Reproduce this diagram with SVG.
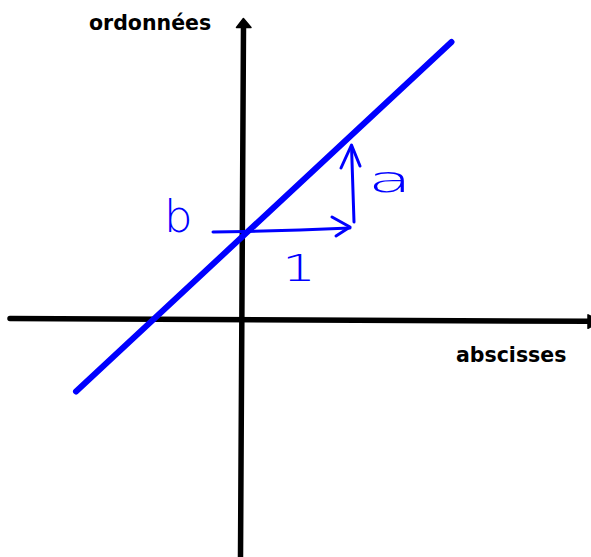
<svg xmlns="http://www.w3.org/2000/svg" width="591" height="557" viewBox="0 0 591 557">
  <style>
    .axis { stroke: #000; stroke-width: 5.5; stroke-linecap: round; fill: none; }
    .head { fill: #000; stroke: #000; stroke-width: 1.5; stroke-linejoin: round; }
    .label { font-family: "DejaVu Sans", "Liberation Sans", sans-serif; font-weight: bold; font-size: 20.5px; fill: #000; }
    .blue { stroke: #0000ff; fill: none; stroke-linecap: round; stroke-linejoin: round; }
    .hand { font-family: "DejaVu Sans", "Liberation Sans", sans-serif; font-weight: 200; fill: #0000ff; }
  </style>
  <rect width="591" height="557" fill="#fff"/>
  <g id="axes">
    <line class="axis" x1="240.5" y1="557" x2="243.5" y2="26"/>
    <polygon class="head" points="243.4,18.5 251,27.5 236.5,27.5"/>
    <line class="axis" x1="10" y1="318.5" x2="588" y2="321.3"/>
    <polygon class="head" points="588,314.8 601,321.5 588,328.3"/>
  </g>
  <g id="labels">
    <text class="label" x="89" y="30">ordonnées</text>
    <text class="label" x="456" y="362">abscisses</text>
  </g>
  <g id="droite">
    <line class="blue" stroke-width="6" x1="76" y1="391.5" x2="451.5" y2="42"/>
  </g>
  <g id="connectors">
    <path class="blue" stroke-width="3" d="M213,232 L245,231.5 L300,230 L350,228"/>
    <path class="blue" stroke-width="3" d="M332,217 L350,227 L336,236"/>
    <path class="blue" stroke-width="3" d="M354,222 L351.5,146"/>
    <path class="blue" stroke-width="3" d="M341,168 L351.5,145 L360,166"/>
  </g>
  <g id="hand-labels">
    <text class="hand" x="164" y="232" font-size="45">b</text>
    <text class="hand" x="368" y="192" font-size="36" textLength="44" lengthAdjust="spacingAndGlyphs">a</text>
    <text class="hand" x="282" y="281" font-size="38" textLength="34" lengthAdjust="spacingAndGlyphs">1</text>
  </g>
</svg>
